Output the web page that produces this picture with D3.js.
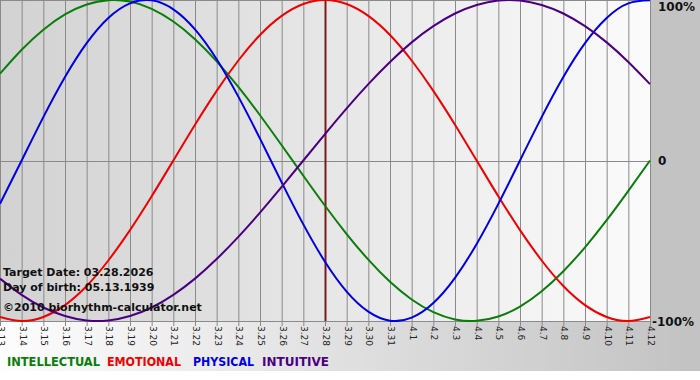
<!DOCTYPE html>
<html>
<head>
<meta charset="utf-8">
<script src="https://cdn.jsdelivr.net/npm/d3@7"></script>
<style>
  body { margin: 0; background: #fff; }
  svg { display: block; }
</style>
</head>
<body>
<div id="chart"></div>
<script>
const width = 700;
const height = 380;

// day labels shown under the plot (month.day)
const days = ['3.13', '3.14', '3.15', '3.16', '3.17', '3.18', '3.19', '3.20', '3.21', '3.22',
    '3.23', '3.24', '3.25', '3.26', '3.27', '3.28', '3.29', '3.30', '3.31', '4.1',
    '4.2', '4.3', '4.4', '4.5', '4.6', '4.7', '4.8', '4.9', '4.10', '4.11', '4.12'];
const targetDay = '3.28';

// cycle values per day, -1 .. 1
const intellectual = [0.541, 0.690, 0.815, 0.910, 0.972, 0.999, 0.990, 0.945, 0.866, 0.756, 0.618, 0.458, 0.282, 0.095, -0.095,
    -0.282, -0.458, -0.618, -0.756, -0.866, -0.945, -0.990, -0.999, -0.972, -0.910, -0.815, -0.690, -0.541, -0.372, -0.189, 0];
const emotional = [-0.975, -1.000, -0.975, -0.901, -0.782, -0.623, -0.434, -0.223, 0, 0.223, 0.434, 0.623, 0.782, 0.901, 0.975,
    1.000, 0.975, 0.901, 0.782, 0.623, 0.434, 0.223, 0, -0.223, -0.434, -0.623, -0.782, -0.901, -0.975, -1.000, -0.975];
const physical = [-0.270, 0, 0.270, 0.520, 0.731, 0.888, 0.979, 0.998, 0.942, 0.817, 0.631, 0.398, 0.136, -0.136, -0.398,
    -0.631, -0.817, -0.942, -0.998, -0.979, -0.888, -0.731, -0.520, -0.270, 0, 0.270, 0.520, 0.731, 0.888, 0.979, 0.998];
const intuitive = [-0.736, -0.837, -0.916, -0.969, -0.997, -0.997, -0.969, -0.916, -0.837, -0.736, -0.614, -0.476, -0.325, -0.165, 0,
    0.165, 0.325, 0.476, 0.614, 0.736, 0.837, 0.916, 0.969, 0.997, 0.997, 0.969, 0.916, 0.837, 0.736, 0.614, 0.476];

const seriesNames = ['INTELLECTUAL', 'EMOTIONAL', 'PHYSICAL', 'INTUITIVE'];
const yTicks = [1, 0, -1];
const yTickLabels = ['100%', '0', '-100%'];
const infoLines = ['Target Date: 03.28.2026', 'Day of birth: 05.13.1939', '©2010 biorhythm-calculator.net'];

const series = [intellectual, emotional, physical, intuitive];

const color = d3.scaleOrdinal()
    .domain(seriesNames)
    .range(['#0a7d0a', '#f00000', '#0000e6', '#4b0082']);

const plotRight = 651;
const plotBottom = 321;

const x = d3.scalePoint().domain(days).range([0, 650]);
const y = d3.scaleLinear().domain([-1, 1]).range([plotBottom, 0]);

const svg = d3.select('#chart').append('svg').attr('width', width).attr('height', height);

const defs = svg.append('defs');
const plotGrad = defs.append('linearGradient').attr('id', 'plotGrad');
plotGrad.append('stop').attr('offset', '0%').attr('stop-color', '#d2d2d2');
plotGrad.append('stop').attr('offset', '100%').attr('stop-color', '#fbfbfb');
const bottomGrad = defs.append('linearGradient').attr('id', 'bottomGrad');
bottomGrad.append('stop').attr('offset', '0%').attr('stop-color', '#fdfdfd');
bottomGrad.append('stop').attr('offset', '100%').attr('stop-color', '#c2c2c2');
defs.append('clipPath').attr('id', 'plotClip')
    .append('rect').attr('x', 0).attr('y', 0).attr('width', plotRight).attr('height', plotBottom + 1);

// backgrounds
svg.append('rect').attr('x', 0).attr('y', 0).attr('width', width).attr('height', 371).attr('fill', '#c3c3c3');
svg.append('rect').attr('x', 0).attr('y', plotBottom).attr('width', width).attr('height', 50).attr('fill', 'url(#bottomGrad)');
svg.append('rect').attr('x', 0).attr('y', 0).attr('width', plotRight).attr('height', plotBottom).attr('fill', 'url(#plotGrad)');

// vertical day lines with small ticks below
svg.append('g')
    .selectAll('line')
    .data(days)
    .join('line')
    .attr('x1', d => x(d) + 0.5)
    .attr('x2', d => x(d) + 0.5)
    .attr('y1', 0)
    .attr('y2', plotBottom + 5)
    .attr('stroke', '#8a8a8a')
    .attr('stroke-width', 1);

// horizontal lines at 100 / 0 / -100
svg.append('g')
    .selectAll('line')
    .data(yTicks)
    .join('line')
    .attr('x1', 0)
    .attr('x2', plotRight)
    .attr('y1', d => Math.round(y(d)) + 0.5)
    .attr('y2', d => Math.round(y(d)) + 0.5)
    .attr('stroke', '#8a8a8a')
    .attr('stroke-width', 1);

// target day marker
svg.append('line')
    .attr('x1', x(targetDay) + 0.5)
    .attr('x2', x(targetDay) + 0.5)
    .attr('y1', 0)
    .attr('y2', plotBottom)
    .attr('stroke', '#7a1c1c')
    .attr('stroke-width', 2);

const line = d3.line()
    .x((d, i) => x(days[i]))
    .y(d => y(d))
    .curve(d3.curveNatural);

svg.append('g')
    .attr('clip-path', 'url(#plotClip)')
    .selectAll('path')
    .data(series)
    .join('path')
    .attr('d', line)
    .attr('fill', 'none')
    .attr('stroke', (d, i) => color(seriesNames[i]))
    .attr('stroke-width', 2);

// day labels, rotated
svg.append('g')
    .selectAll('text')
    .data(days)
    .join('text')
    .attr('transform', d => `translate(${x(d) + 1},${plotBottom + 5}) rotate(90)`)
    .attr('dy', '0.35em')
    .attr('font-family', 'DejaVu Sans, sans-serif')
    .attr('font-size', 9)
    .attr('fill', '#222')
    .text(d => d);

// right side percent labels
svg.append('g')
    .selectAll('text')
    .data(yTicks)
    .join('text')
    .attr('x', (d, i) => i === 2 ? 652 : 658)
    .attr('y', d => Math.min(Math.max(y(d), 6), plotBottom + 1))
    .attr('dy', '0.38em')
    .attr('font-family', 'DejaVu Sans, sans-serif')
    .attr('font-weight', 'bold')
    .attr('font-size', 12)
    .attr('fill', '#111')
    .text((d, i) => yTickLabels[i]);

// info text
svg.append('g')
    .selectAll('text')
    .data(infoLines)
    .join('text')
    .attr('x', 3)
    .attr('y', (d, i) => [276, 291, 311][i])
    .attr('font-family', 'DejaVu Sans, sans-serif')
    .attr('font-weight', 'bold')
    .attr('font-size', 11)
    .attr('fill', '#111')
    .text(d => d);

// legend
const legendX = [7, 107, 193, 262];
const legendW = [93, 74, 61, 67];
svg.append('g')
    .selectAll('text')
    .data(seriesNames)
    .join('text')
    .attr('x', (d, i) => legendX[i])
    .attr('y', 366)
    .attr('textLength', (d, i) => legendW[i])
    .attr('lengthAdjust', 'spacingAndGlyphs')
    .attr('font-family', 'DejaVu Sans, sans-serif')
    .attr('font-weight', 'bold')
    .attr('font-size', 12)
    .attr('fill', d => color(d))
    .text(d => d);
</script>
</body>
</html>
